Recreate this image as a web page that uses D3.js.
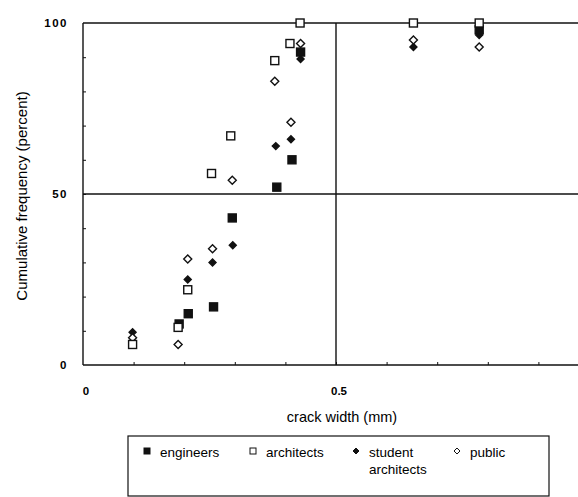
<!DOCTYPE html>
<html>
<head>
<meta charset="utf-8">
<script src="https://cdn.jsdelivr.net/npm/d3@7"></script>
<style>
  body { margin: 0; background: white; }
  svg { display: block; font-family: "Liberation Sans", Arial, sans-serif; }
</style>
</head>
<body>
<div id="chart"></div>
<script>
// crack width (mm) / cumulative frequency (percent)
var engineers = [[0.19, 12], [0.208, 15], [0.258, 17], [0.295, 43], [0.383, 52], [0.413, 60], [0.43, 91.5], [0.783, 98]];
var architects = [[0.098, 6], [0.188, 11], [0.207, 22], [0.254, 56], [0.292, 67], [0.379, 89], [0.409, 94], [0.429, 100], [0.653, 100], [0.783, 100]];
var studentArchitects = [[0.098, 9.6], [0.207, 25], [0.256, 30], [0.296, 35], [0.381, 64], [0.411, 66], [0.43, 89.5], [0.653, 93], [0.783, 96.5]];
var publicView = [[0.098, 8], [0.188, 6], [0.207, 31], [0.256, 34], [0.295, 54], [0.379, 83], [0.411, 71], [0.43, 94], [0.653, 95], [0.783, 93]];

var xTicks = [0, 0.5];
var yTicks = [0, 50, 100];

var width = 578, height = 497;

var svg = d3.select('#chart').append('svg')
  .attr('width', width)
  .attr('height', height);

var x = d3.scaleLinear().domain([0, 1]).range([83, 589]);
var y = d3.scaleLinear().domain([0, 100]).range([365, 23]);

var frame = svg.append('g').attr('stroke', '#111').attr('stroke-width', 1.4).attr('fill', 'none');

// frame and the two grid lines
frame.append('line').attr('x1', x(0)).attr('x2', width).attr('y1', y(100)).attr('y2', y(100));
frame.append('line').attr('x1', x(0)).attr('x2', width).attr('y1', y(50)).attr('y2', y(50));
frame.append('line').attr('x1', x(0)).attr('x2', width).attr('y1', y(0)).attr('y2', y(0));
frame.append('line').attr('x1', x(0)).attr('x2', x(0)).attr('y1', y(0)).attr('y2', y(100));
frame.append('line').attr('x1', x(0.5)).attr('x2', x(0.5)).attr('y1', y(0)).attr('y2', y(100));

// minor inside ticks
var yAxis = d3.axisRight(y).tickValues(d3.range(10, 100, 10)).tickSize(3).tickFormat('');
svg.append('g').attr('transform', 'translate(' + x(0) + ',0)').call(yAxis)
  .call(g => g.select('.domain').remove())
  .selectAll('line').attr('stroke', '#111');

var xAxis = d3.axisTop(x).tickValues(d3.range(0.1, 1, 0.1)).tickSize(3).tickFormat('');
svg.append('g').attr('transform', 'translate(0,' + y(0) + ')').call(xAxis)
  .call(g => g.select('.domain').remove())
  .selectAll('line').attr('stroke', '#111');

// tick labels
svg.append('g').selectAll('text').data(yTicks).join('text')
  .attr('x', 68).attr('y', d => y(d) + 4)
  .attr('text-anchor', 'end')
  .attr('font-size', 11.5).attr('font-weight', 'bold').attr('letter-spacing', 1.5)
  .text(d => d);

svg.append('g').selectAll('text').data(xTicks).join('text')
  .attr('x', d => x(d) + 3).attr('y', 395)
  .attr('text-anchor', 'middle')
  .attr('font-size', 11.5).attr('font-weight', 'bold')
  .text(d => d);

// axis titles
svg.append('text')
  .attr('x', 342).attr('y', 422)
  .attr('text-anchor', 'middle').attr('font-size', 14.5)
  .text('crack width (mm)');

svg.append('text')
  .attr('transform', 'translate(27,196) rotate(-90)')
  .attr('text-anchor', 'middle').attr('font-size', 15)
  .text('Cumulative frequency (percent)');

// markers
function square(g, data, filled) {
  g.selectAll('rect').data(data).join('rect')
    .attr('x', d => x(d[0]) - 4).attr('y', d => y(d[1]) - 4)
    .attr('width', 8).attr('height', 8)
    .attr('fill', filled ? '#111' : 'white')
    .attr('stroke', '#111').attr('stroke-width', 1.4);
}
function diamond(g, data, filled) {
  var r = filled ? 3.5 : 4;
  g.selectAll('path').data(data).join('path')
    .attr('d', d => {
      var cx = x(d[0]), cy = y(d[1]);
      return 'M' + cx + ',' + (cy - r) + 'L' + (cx + r) + ',' + cy + 'L' + cx + ',' + (cy + r) + 'L' + (cx - r) + ',' + cy + 'Z';
    })
    .attr('fill', filled ? '#111' : 'white')
    .attr('stroke', '#111').attr('stroke-width', 1.4);
}

diamond(svg.append('g'), studentArchitects, true);
square(svg.append('g'), engineers, true);
diamond(svg.append('g'), publicView, false);
square(svg.append('g'), architects, false);

// legend
var legend = svg.append('g');
legend.append('rect')
  .attr('x', 128).attr('y', 436).attr('width', 421).attr('height', 60)
  .attr('fill', 'none').attr('stroke', '#111').attr('stroke-width', 1.2);

var legendItems = [
  { label: ['engineers'], x: 147, kind: 'square', filled: true },
  { label: ['architects'], x: 253, kind: 'square', filled: false },
  { label: ['student', 'architects'], x: 356, kind: 'diamond', filled: true },
  { label: ['public'], x: 457, kind: 'diamond', filled: false }
];

legendItems.forEach(function(it) {
  var cy = 453;
  if (it.kind == 'square') {
    legend.append('rect')
      .attr('x', it.x - 3).attr('y', cy - 5).attr('width', 6).attr('height', 6)
      .attr('fill', it.filled ? '#111' : 'white').attr('stroke', '#111').attr('stroke-width', 1);
  } else {
    var r = 3;
    legend.append('path')
      .attr('d', 'M' + it.x + ',' + (cy - 2 - r) + 'L' + (it.x + r) + ',' + (cy - 2) + 'L' + it.x + ',' + (cy - 2 + r) + 'L' + (it.x - r) + ',' + (cy - 2) + 'Z')
      .attr('fill', it.filled ? '#111' : 'white').attr('stroke', '#111').attr('stroke-width', 1);
  }
  var t = legend.append('text').attr('x', it.x + 13).attr('y', cy + 4).attr('font-size', 13.5);
  it.label.forEach(function(s, i) {
    t.append('tspan').attr('x', it.x + 13).attr('dy', i ? 17 : 0).text(s);
  });
});
</script>
</body>
</html>
